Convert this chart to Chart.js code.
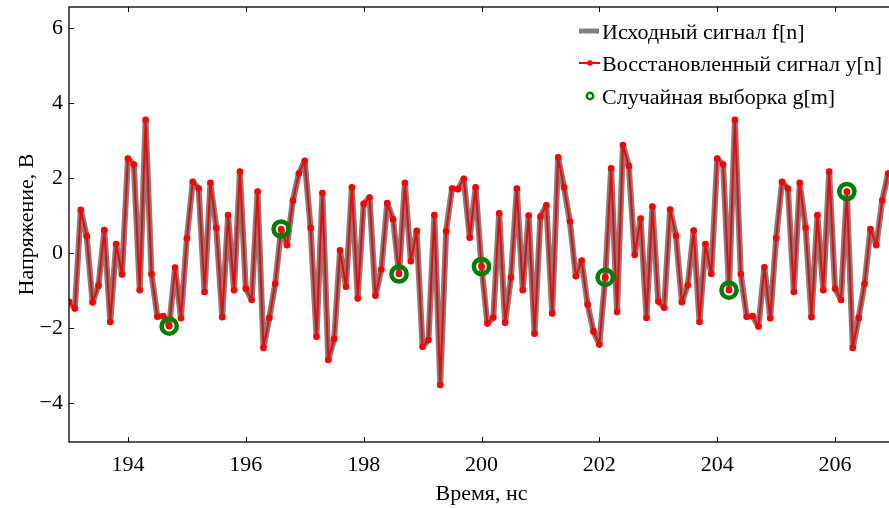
<!DOCTYPE html>
<html>
<head>
<meta charset="utf-8">
<script src="https://cdn.jsdelivr.net/npm/chart.js@4.4.1/dist/chart.umd.min.js"></script>
<style>
  html, body { margin: 0; padding: 0; background: #fff; overflow: hidden; }
  #wrap { width: 894px; height: 508px; }
</style>
</head>
<body>
<div id="wrap"><canvas id="chart" width="894" height="508"></canvas></div>
<script>
// sampling grid of the signal, ns
const tStart = 193.0;
const tStep = 0.1;

// f[n] (y[n] lies on top of it)
const signalValues = [
  -1.30, -1.48, 1.15, 0.45, -1.32, -0.87, 0.61, -1.84, 0.24, -0.57,
  2.52, 2.36, -0.99, 3.55, -0.56, -1.70, -1.68, -1.95, -0.39, -1.74,
  0.39, 1.90, 1.72, -1.04, 1.87, 0.67, -1.71, 1.01, -0.99, 2.17,
  -0.95, -1.25, 1.64, -2.53, -1.73, -0.82, 0.64, 0.21, 1.40, 2.12,
  2.46, 0.67, -2.23, 1.60, -2.85, -2.29, 0.07, -0.90, 1.75, -1.21,
  1.31, 1.48, -1.14, -0.44, 1.33, 0.90, -0.56, 1.87, -0.22, 0.59,
  -2.50, -2.32, 1.01, -3.52, 0.58, 1.72, 1.70, 1.98, 0.41, 1.75,
  -0.36, -1.88, -1.72, 1.06, -1.86, -0.65, 1.72, -0.99, 1.00, -2.15,
  0.97, 1.27, -1.61, 2.55, 1.75, 0.84, -0.62, -0.20, -1.37, -2.09,
  -2.44, -0.65, 2.26, -1.57, 2.88, 2.32, -0.05, 0.92, -1.73, 1.24,
  -1.29, -1.46, 1.16, 0.46, -1.31, -0.86, 0.60, -1.84, 0.24, -0.56,
  2.52, 2.36, -0.99, 3.55, -0.56, -1.70, -1.68, -1.96, -0.38, -1.74,
  0.40, 1.90, 1.72, -1.04, 1.87, 0.67, -1.71, 1.01, -0.99, 2.17,
  -0.95, -1.25, 1.64, -2.53, -1.73, -0.82, 0.64, 0.21, 1.40, 2.12
];
const reconValues = signalValues.slice();

// random sample g[m]
const sampleTimes = [194.7, 196.6, 198.6, 200.0, 202.1, 204.2, 206.2];
const sampleValues = [-1.95, 0.64, -0.56, -0.36, -0.65, -0.99, 1.64];

const xTicks = [194, 196, 198, 200, 202, 204, 206];
const yTicks = [-4, -2, 0, 2, 4, 6];

const legendLabels = ['Исходный сигнал f[n]', 'Восстановленный сигнал y[n]', 'Случайная выборка g[m]'];
const xTitle = 'Время, нс';
const yTitle = 'Напряжение, В';

const FONT = '"Liberation Serif", "Times New Roman", serif';

const toPoints = (vals) => vals.map((v, i) => ({ x: +(tStart + i * tStep).toFixed(1), y: v }));

// frame, inward ticks, axis titles and legend
const framePlugin = {
  id: 'frame',
  afterDraw(chart) {
    const { ctx, chartArea: a, scales: { x, y } } = chart;
    ctx.save();
    ctx.strokeStyle = '#000';
    ctx.lineWidth = 1.3;
    ctx.strokeRect(a.left, a.top, a.right - a.left, a.bottom - a.top);

    ctx.lineWidth = 1;
    ctx.beginPath();
    xTicks.forEach(v => {
      const px = Math.round(x.getPixelForValue(v)) + 0.5;
      ctx.moveTo(px, a.bottom); ctx.lineTo(px, a.bottom - 5);
      ctx.moveTo(px, a.top); ctx.lineTo(px, a.top + 5);
    });
    yTicks.forEach(v => {
      const py = Math.round(y.getPixelForValue(v)) + 0.5;
      ctx.moveTo(a.left, py); ctx.lineTo(a.left + 5, py);
    });
    ctx.stroke();

    ctx.fillStyle = '#000';
    ctx.font = '22px ' + FONT;
    ctx.textAlign = 'center';
    ctx.textBaseline = 'alphabetic';
    ctx.fillText(xTitle, x.getPixelForValue(200), 500);

    ctx.save();
    ctx.translate(33, (a.top + a.bottom) / 2);
    ctx.rotate(-Math.PI / 2);
    ctx.fillText(yTitle, 0, 0);
    ctx.restore();

    // legend
    ctx.textAlign = 'left';
    ctx.font = '22px ' + FONT;
    const tx = 602;
    const rows = [31, 63, 96];

    ctx.strokeStyle = '#808080';
    ctx.lineWidth = 5;
    ctx.beginPath(); ctx.moveTo(579, rows[0]); ctx.lineTo(599, rows[0]); ctx.stroke();

    ctx.strokeStyle = '#ff0000';
    ctx.lineWidth = 2;
    ctx.beginPath(); ctx.moveTo(579, rows[1]); ctx.lineTo(600, rows[1]); ctx.stroke();
    ctx.fillStyle = '#ff0000';
    ctx.beginPath(); ctx.arc(590, rows[1], 2.8, 0, Math.PI * 2); ctx.fill();

    ctx.strokeStyle = '#008000';
    ctx.lineWidth = 2.4;
    ctx.beginPath(); ctx.arc(590, rows[2], 3.2, 0, Math.PI * 2); ctx.stroke();

    ctx.fillStyle = '#000';
    legendLabels.forEach((t, i) => ctx.fillText(t, tx, rows[i] + 8));
    ctx.restore();
  }
};

new Chart(document.getElementById('chart'), {
  type: 'line',
  data: {
    datasets: [
      {
        label: legendLabels[0],
        data: toPoints(signalValues),
        borderColor: '#808080',
        borderWidth: 6,
        borderJoinStyle: 'round',
        borderCapStyle: 'round',
        pointRadius: 0,
        tension: 0,
        order: 2
      },
      {
        label: legendLabels[1],
        data: toPoints(reconValues),
        borderColor: '#ff0000',
        backgroundColor: '#ff0000',
        borderWidth: 2,
        borderJoinStyle: 'round',
        pointRadius: 3.3,
        pointBorderWidth: 0,
        tension: 0,
        order: 1
      },
      {
        label: legendLabels[2],
        data: sampleTimes.map((t, i) => ({ x: t, y: sampleValues[i] })),
        showLine: false,
        pointRadius: 7.6,
        pointBorderWidth: 4.5,
        pointBorderColor: '#008000',
        pointBackgroundColor: 'rgba(0,0,0,0)',
        order: 0
      }
    ]
  },
  options: {
    responsive: false,
    animation: false,
    layout: { autoPadding: false, padding: { top: 7, left: 0, right: 0, bottom: 0 } },
    plugins: {
      legend: { display: false },
      tooltip: { enabled: false }
    },
    scales: {
      x: {
        type: 'linear',
        min: 193,
        max: 207,
        grid: { display: false, drawTicks: false },
        border: { display: false },
        afterBuildTicks: s => { s.ticks = xTicks.map(v => ({ value: v })); },
        afterFit: s => { s.height = 66; s.paddingLeft = 0; s.paddingRight = 0; },
        ticks: {
          color: '#000',
          padding: 10,
          maxRotation: 0,
          font: { family: FONT, size: 22 }
        }
      },
      y: {
        type: 'linear',
        min: -5.04,
        max: 6.56,
        grid: { display: false, drawTicks: false },
        border: { display: false },
        afterBuildTicks: s => { s.ticks = yTicks.map(v => ({ value: v })); },
        afterFit: s => { s.width = 69; s.paddingTop = 0; s.paddingBottom = 0; },
        ticks: {
          color: '#000',
          padding: 6,
          font: { family: FONT, size: 22 },
          callback: v => (v < 0 ? '\u2212' + Math.abs(v) : String(v))
        }
      }
    }
  },
  plugins: [framePlugin]
});
</script>
</body>
</html>
